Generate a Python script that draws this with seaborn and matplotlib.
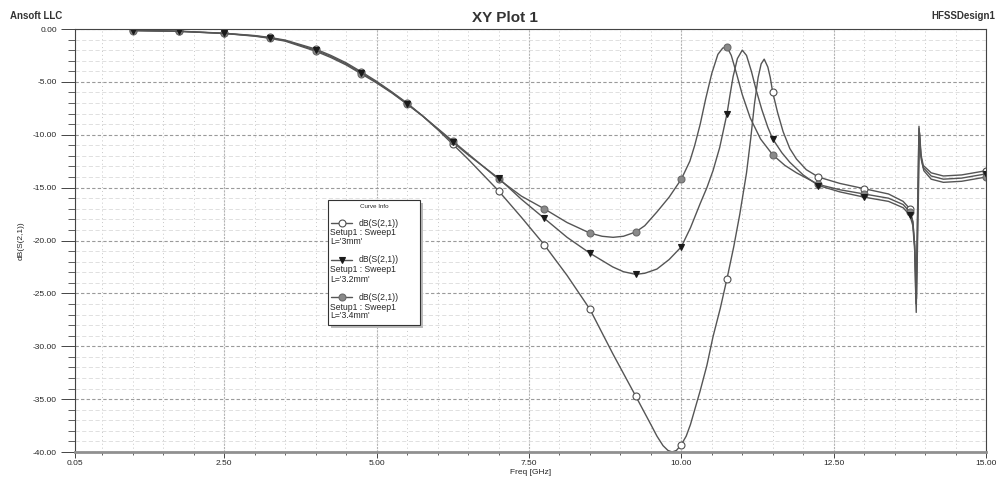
import numpy as np
import matplotlib
matplotlib.use("Agg")
import matplotlib.pyplot as plt
from matplotlib.lines import Line2D
from matplotlib.patches import Rectangle
from matplotlib.ticker import MultipleLocator, FixedLocator, FuncFormatter
import seaborn as sns

# --- data (Freq [GHz], dB(S(2,1))) ---
freq_3mm = [1.0, 1.75, 2.5, 3.0, 3.25, 3.5, 4.0, 4.25, 4.5, 4.75, 5.0, 5.25, 5.5, 5.75, 6.0,
            6.25, 6.5, 6.75, 7.0, 7.375, 7.75, 8.125, 8.5, 8.875, 9.25, 9.5, 9.6, 9.7, 9.78,
            9.85, 9.92, 10.0, 10.08, 10.15, 10.31, 10.42, 10.52, 10.64, 10.75, 10.86, 10.96,
            11.07, 11.14, 11.2, 11.26, 11.31, 11.36, 11.42, 11.46, 11.5, 11.58, 11.67, 11.78,
            11.89, 12.05, 12.25, 12.6, 13.0, 13.4, 13.64, 13.75, 13.8, 13.83, 13.85, 13.9,
            13.93, 13.97, 14.1, 14.3, 14.6, 15.0]
db_3mm = [-0.12, -0.2, -0.4, -0.62, -0.8, -1.05, -1.9, -2.5, -3.2, -4.05, -4.95, -5.95, -7.0,
          -8.2, -9.5, -10.9, -12.3, -13.8, -15.3, -17.8, -20.4, -23.3, -26.5, -30.7, -34.7,
          -37.4, -38.5, -39.4, -39.85, -40.0, -39.85, -39.3, -38.5, -37.4, -34.2, -31.8, -29.1,
          -26.4, -23.6, -20.6, -17.5, -13.6, -10.3, -7.1, -4.6, -3.3, -2.85, -3.6, -4.6, -6.0,
          -7.9, -9.7, -11.3, -12.3, -13.3, -14.0, -14.6, -15.1, -15.6, -16.3, -17.0, -18.2,
          -20.5, -26.0, -9.4, -11.8, -12.9, -13.6, -13.9, -13.8, -13.4]

freq_32mm = [1.0, 1.75, 2.5, 3.0, 3.25, 3.5, 4.0, 4.25, 4.5, 4.75, 5.0, 5.25, 5.5, 5.75, 6.0,
             6.25, 6.5, 6.75, 7.0, 7.375, 7.75, 8.125, 8.5, 8.875, 9.05, 9.25, 9.4, 9.6, 9.8,
             10.0, 10.15, 10.31, 10.42, 10.52, 10.63, 10.75, 10.8, 10.85, 10.92, 11.0, 11.07,
             11.15, 11.23, 11.32, 11.42, 11.5, 11.65, 11.78, 12.0, 12.25, 12.6, 13.0, 13.4,
             13.64, 13.75, 13.8, 13.83, 13.855, 13.9, 13.93, 13.97, 14.1, 14.3, 14.6, 15.0]
db_32mm = [-0.15, -0.22, -0.42, -0.65, -0.85, -1.1, -2.0, -2.6, -3.3, -4.15, -5.05, -6.0, -7.1,
           -8.2, -9.45, -10.7, -11.9, -13.0, -14.1, -16.1, -17.9, -19.7, -21.2, -22.5, -22.95,
           -23.2, -23.1, -22.7, -21.8, -20.6, -18.8, -16.5, -15.0, -13.4, -11.2, -8.0, -6.2,
           -4.5, -2.8, -2.0, -2.5, -4.0, -5.8, -7.6, -9.3, -10.4, -11.7, -12.6, -13.8, -14.8,
           -15.4, -15.9, -16.3, -16.9, -17.6, -18.6, -21.0, -26.8, -9.2, -12.0, -13.1, -13.9,
           -14.2, -14.1, -13.7]

freq_34mm = [1.0, 1.75, 2.5, 3.0, 3.25, 3.5, 4.0, 4.25, 4.5, 4.75, 5.0, 5.25, 5.5, 5.75, 6.0,
             6.25, 6.5, 6.75, 7.0, 7.375, 7.75, 8.125, 8.5, 8.7, 8.88, 9.05, 9.25, 9.4, 9.6,
             9.8, 10.0, 10.14, 10.22, 10.31, 10.4, 10.5, 10.6, 10.68, 10.75, 10.82, 10.91, 11.0,
             11.13, 11.3, 11.5, 11.7, 11.89, 12.25, 12.6, 13.0, 13.4, 13.64, 13.75, 13.8, 13.83,
             13.86, 13.91, 13.94, 13.98, 14.1, 14.3, 14.6, 15.0]
db_34mm = [-0.15, -0.22, -0.42, -0.68, -0.88, -1.15, -2.1, -2.7, -3.4, -4.25, -5.1, -6.05, -7.1,
           -8.2, -9.4, -10.6, -11.8, -13.0, -14.2, -15.8, -17.0, -18.3, -19.3, -19.6, -19.7,
           -19.6, -19.2, -18.6, -17.3, -15.9, -14.2, -12.5, -11.0, -9.0, -6.6, -4.2, -2.4,
           -1.8, -1.7, -2.5, -4.3, -6.2, -8.4, -10.4, -11.9, -12.9, -13.6, -14.7, -15.2, -15.6,
           -16.0, -16.6, -17.3, -18.3, -20.5, -25.5, -9.8, -12.4, -13.4, -14.2, -14.5, -14.4,
           -14.0]

# frequencies carrying a marker symbol
marker_freq = [1.0, 1.75, 2.5, 3.25, 4.0, 4.75, 5.5, 6.25, 7.0, 7.75, 8.5, 9.25, 10.0,
               10.75, 11.5, 12.25, 13.0, 13.75, 15.0]

x_ticks = [0.05, 2.5, 5.0, 7.5, 10.0, 12.5, 15.0]
x_tick_labels = ["0.05", "2.50", "5.00", "7.50", "10.00", "12.50", "15.00"]
y_ticks = [0, -5, -10, -15, -20, -25, -30, -35, -40]

curves = [
    ("L='3mm'", freq_3mm, db_3mm, "o", "white", "#505050"),
    ("L='3.2mm'", freq_32mm, db_32mm, "v", "#1a1a1a", "#1a1a1a"),
    ("L='3.4mm'", freq_34mm, db_34mm, "o", "#8a8a8a", "#6a6a6a"),
]

sns.set_theme(style="white")
plt.rcParams["font.family"] = ["Liberation Sans", "DejaVu Sans"]
plt.rcParams["axes.unicode_minus"] = False

W, H = 999, 480
fig = plt.figure(figsize=(W / 100, H / 100), dpi=100)
ax = fig.add_axes([75 / W, 1 - 452 / H, (986 - 75) / W, (452 - 29) / H])

line_col = "#555555"
# draw order: 3mm, 3.4mm, then 3.2mm on top (dark triangles show over the others)
for k in [0, 2, 1]:
    label, f, v, mk, mfc, mec = curves[k]
    idx = [i for i, fr in enumerate(f) if fr in marker_freq]
    sns.lineplot(x=f, y=v, ax=ax, color=line_col, linewidth=1.0, sort=False,
                 estimator=None, legend=False, marker=mk, markevery=idx,
                 markersize=5, markerfacecolor=mfc, markeredgecolor=mec,
                 markeredgewidth=0.8)

ax.set_xlim(0.05, 15.0)
ax.set_ylim(-40, 0)
ax.xaxis.set_major_locator(FixedLocator(x_ticks))
ax.set_xticklabels(x_tick_labels)
ax.xaxis.set_minor_locator(MultipleLocator(0.5))
ax.yaxis.set_major_locator(FixedLocator(y_ticks))
ax.yaxis.set_major_formatter(FuncFormatter(lambda v, p: f"{v:.2f}"))
ax.yaxis.set_minor_locator(MultipleLocator(1))

# grid like the HFSS report
ax.grid(which="major", axis="x", color="#b4b4b4", linestyle=(0, (2, 1)), linewidth=0.8)
ax.grid(which="minor", axis="x", color="#c8c8c8", linestyle=(0, (1, 3)), linewidth=0.7)
ax.grid(which="major", axis="y", color="#9a9a9a", linestyle=(0, (3, 2)), linewidth=0.8)
ax.grid(which="minor", axis="y", color="#dadada", linestyle=(0, (5, 3)), linewidth=0.6)
ax.set_axisbelow(True)

for s in ax.spines.values():
    s.set_color("#444444")
    s.set_linewidth(0.8)
ax.spines["bottom"].set_color("#909090")
ax.spines["bottom"].set_linewidth(2.0)

ax.tick_params(axis="y", which="major", direction="out", length=10, width=0.7,
               labelsize=6, pad=3, color="#444444", left=True)
ax.tick_params(axis="y", which="minor", direction="out", length=5, width=0.6,
               color="#444444", left=True)
ax.tick_params(axis="x", which="major", direction="out", length=4, width=0.7,
               labelsize=6, pad=2, color="#444444", bottom=True)
ax.tick_params(axis="x", which="minor", direction="out", length=2, width=0.6,
               color="#444444", bottom=True)

ax.set_xlabel("Freq [GHz]", fontsize=6, labelpad=1)
ax.set_ylabel("dB(S(2,1))", fontsize=6, labelpad=6)

fig.text(505 / W, 1 - 18 / H, "XY Plot 1", ha="center", va="center", fontsize=11,
         fontweight="bold", color="#333333")
fig.text(10 / W, 1 - 16 / H, "Ansoft LLC", ha="left", va="center", fontsize=7,
         fontweight="bold", color="#333333")
fig.text(995 / W, 1 - 16 / H, "HFSSDesign1", ha="right", va="center", fontsize=7,
         fontweight="bold", color="#333333")

# curve info box
def fx(px):
    return px / W

def fy(py):
    return 1 - py / H

fig.patches.append(Rectangle((fx(331), fy(328)), 92 / W, 125 / H, transform=fig.transFigure,
                             facecolor="#bbbbbb", edgecolor="none", zorder=5))
fig.patches.append(Rectangle((fx(328), fy(325)), 92 / W, 125 / H, transform=fig.transFigure,
                             facecolor="white", edgecolor="#333333", linewidth=0.8, zorder=6))
fig.text(fx(374), fy(207), "Curve Info", ha="center", va="center", fontsize=4.5, zorder=7)
for i, (label, f, v, mk, mfc, mec) in enumerate(curves):
    yb = 223 + 37 * i
    fig.lines.append(Line2D([fx(331), fx(352)], [fy(yb), fy(yb)], transform=fig.transFigure,
                            color=line_col, linewidth=1.0, zorder=7))
    fig.lines.append(Line2D([fx(341.5)], [fy(yb)], transform=fig.transFigure, marker=mk,
                            markersize=5, markerfacecolor=mfc, markeredgecolor=mec,
                            markeredgewidth=0.8, linestyle="none", zorder=8))
    fig.text(fx(359), fy(yb), "dB(S(2,1))", ha="left", va="center", fontsize=6.2, zorder=8)
    fig.text(fx(330), fy(yb + 10), "Setup1 : Sweep1", ha="left", va="center", fontsize=6.2,
             zorder=8)
    fig.text(fx(330), fy(yb + 19), label, ha="left", va="center", fontsize=6.2, zorder=8)

fig.savefig("out.png", dpi=100)
